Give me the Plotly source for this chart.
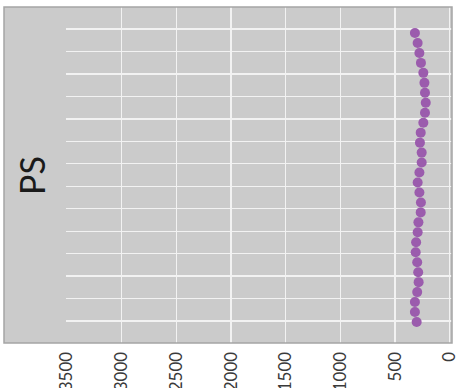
import plotly.graph_objects as go

# category positions (bottom -> top in the rotated picture)
periods = [1, 2, 3, 4, 5, 6, 7, 8, 9, 10, 11, 12, 13, 14, 15,
           16, 17, 18, 19, 20, 21, 22, 23, 24, 25, 26, 27, 28, 29, 30]
values = [303, 319, 319, 298, 285, 289, 298, 312, 308, 294,
          287, 266, 264, 278, 294, 278, 257, 257, 273, 266,
          242, 227, 220, 227, 232, 242, 264, 278, 294, 319]
value_ticks = [0, 500, 1000, 1500, 2000, 2500, 3000, 3500]
value_tick_labels = ["0", "500", "1000", "1500", "2000", "2500", "3000", "3500"]
panel_label = "PS"

W, H = 456, 388
L, R, T, B = 66, 452, 7, 343

fig = go.Figure()
fig.add_trace(go.Scatter(
    x=values, y=periods, mode="markers",
    marker=dict(size=10, color="#9b5cad", line=dict(width=0)),
    hoverinfo="skip", showlegend=False,
))

def px_to_paper_x(px):
    return (px - L) / (R - L)

def px_to_paper_y(py):
    return (B - py) / (B - T)

fig.update_layout(
    template="none",
    width=W, height=H,
    margin=dict(l=L, r=W - R, t=T, b=H - B, pad=0, autoexpand=False),
    paper_bgcolor="white",
    plot_bgcolor="#cbcbcb",
    font=dict(family="Lato, Open Sans, sans-serif", color="#3a3a3a"),
    xaxis=dict(
        range=[3508, -20], autorange=False, automargin=False,
        tickvals=value_ticks, ticktext=value_tick_labels,
        tickangle=-90, tickfont=dict(size=17, color="#3a3a3a"),
        ticklabeloverflow="allow",
        showgrid=True, gridcolor="#f2f2f2", gridwidth=1.3,
        zeroline=True, zerolinecolor="#f2f2f2", zerolinewidth=1.3,
        showline=False, ticks="outside", ticklen=1,
        tickcolor="rgba(0,0,0,0)",
    ),
    yaxis=dict(
        range=[-1.107, 32.61], autorange=False, automargin=False,
        tick0=1.1, dtick=2.254, showticklabels=False,
        showgrid=True, gridcolor="#f2f2f2", gridwidth=1.3,
        zeroline=False, showline=False, ticks="",
    ),
    shapes=[
        dict(type="rect", xref="paper", yref="paper",
             x0=px_to_paper_x(4), x1=0, y0=0, y1=1,
             fillcolor="#cbcbcb", line=dict(width=0), layer="below"),
        dict(type="rect", xref="paper", yref="paper",
             x0=px_to_paper_x(4), x1=1, y0=0, y1=1,
             fillcolor="rgba(0,0,0,0)", line=dict(width=1.5, color="#a5a5a5"),
             layer="above"),
    ],
    annotations=[
        dict(text=panel_label, xref="paper", yref="paper",
             x=px_to_paper_x(31), y=px_to_paper_y(176),
             xanchor="center", yanchor="middle", showarrow=False,
             textangle=-90, font=dict(size=34, color="#1a1a1a")),
    ],
)

fig.write_html("out.html",
               config={"displayModeBar": False, "staticPlot": True},
               post_script="document.body.style.margin='0';document.body.style.overflow='hidden';")
